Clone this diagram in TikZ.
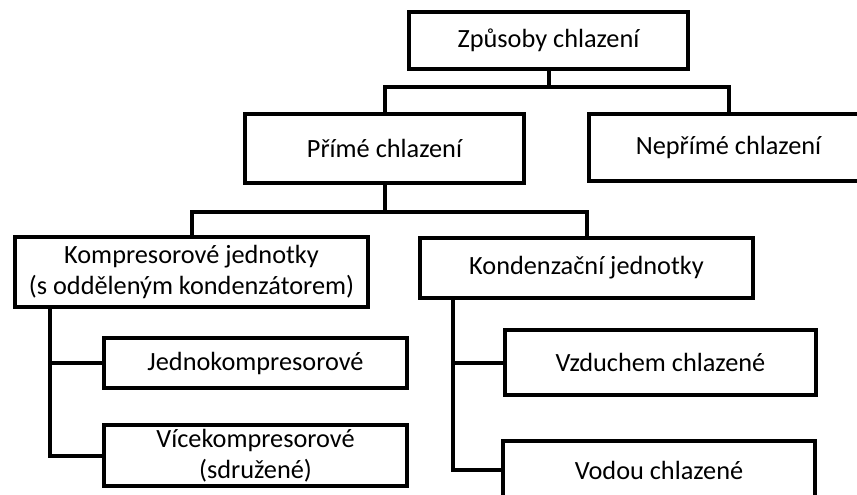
\documentclass[tikz,border=0pt]{standalone}
\usepackage{fontspec}
\setmainfont{Carlito}
\begin{document}
\begin{tikzpicture}[x=1pt,y=-1pt,
  box/.style={draw=black, line width=4pt, line join=miter, rectangle, inner sep=0pt,
    align=center, font=\fontsize{26.3}{31}\selectfont},
  conn/.style={draw=black, line width=4pt, line join=miter}]
\useasboundingbox (0,0) rectangle (857,495);
\clip (0,0) rectangle (857,495);
\fill[white] (0,0) rectangle (857,495);
\node[box, minimum width=279pt, minimum height=57pt] (top) at (548.5,40.5) {Způsoby chlazení};
\node[box, minimum width=279pt, minimum height=69pt] (prime) at (384.5,148.5) {Přímé chlazení};
\node[box, minimum width=279pt, minimum height=67pt] (nepr) at (728.5,147.5) {Nepřímé chlazení};
\node[box, minimum width=353pt, minimum height=70pt] (komp) at (191.5,272) {Kompresorové jednotky\\(s odděleným kondenzátorem)};
\node[box, minimum width=333pt, minimum height=60pt] (kond) at (586.5,268) {Kondenzační jednotky};
\node[box, minimum width=303pt, minimum height=50pt] (jedno) at (255.5,363) {Jednokompresorové};
\node[box, minimum width=303pt, minimum height=61pt] (vice) at (255.5,455.5) {Vícekompresorové\\(sdružené)};
\node[box, minimum width=311pt, minimum height=65pt] (vzduch) at (660.5,362.5) {Vzduchem chlazené};
\node[box, minimum width=312pt, minimum height=58pt] (vodou) at (659,470) {Vodou chlazené};
\coordinate (bar1) at (0,87.5);
\coordinate (bar2) at (0,212);
\coordinate (lx) at (50,0);
\coordinate (rx) at (453,0);
\draw[conn] (top.south) -- (top.south |- bar1);
\draw[conn] (prime.north) |- (top.south |- bar1) -| (nepr.north);
\draw[conn] (prime.south) -- (prime.south |- bar2);
\draw[conn] (komp.north) |- (prime.south |- bar2) -| (kond.north);
\draw[conn] (komp.south -| lx) |- (jedno.west);
\draw[conn] (komp.south -| lx) |- (vice.west);
\draw[conn] (kond.south -| rx) |- (vzduch.west);
\draw[conn] (kond.south -| rx) |- (vodou.west);
\end{tikzpicture}
\end{document}
